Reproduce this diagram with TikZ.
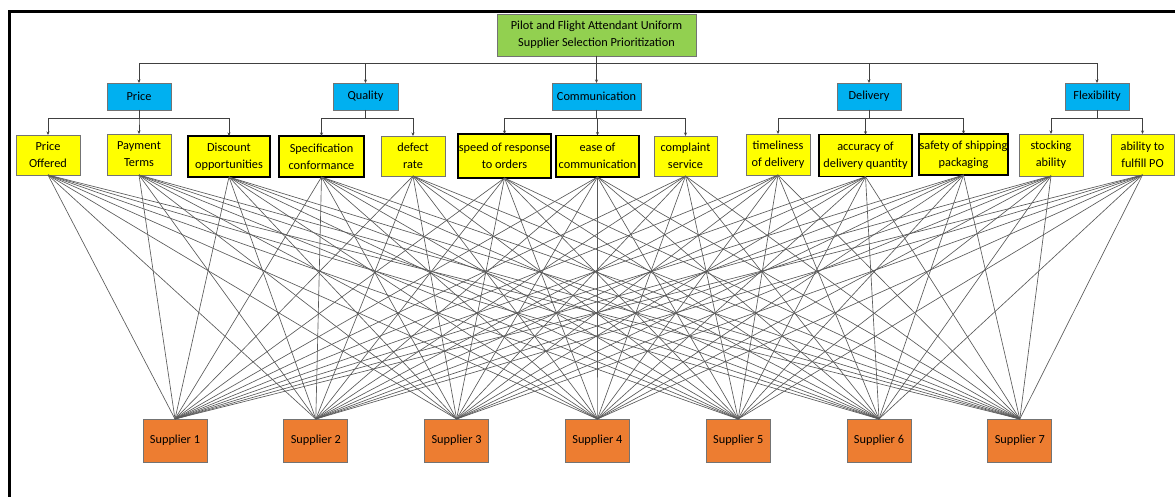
\documentclass[tikz,border=0pt]{standalone}
\usepackage{fontspec}
\setmainfont{Carlito}
\usetikzlibrary{arrows.meta}
\definecolor{cgreen}{HTML}{92D050}
\definecolor{cblue}{HTML}{00B0F0}
\definecolor{cyel}{HTML}{FFFF00}
\definecolor{corange}{HTML}{ED7D31}
\tikzset{
  bx/.style={draw=black!55, line width=0.8pt, inner sep=0pt, outer sep=0pt, align=center,
    font=\fontsize{12.3}{17}\selectfont},
  tk/.style={draw=black, line width=1.1pt},
  topbox/.style={bx, fill=cgreen},
  catbox/.style={bx, fill=cblue, minimum height=27pt},
  subbox/.style={bx, fill=cyel},
  supbox/.style={bx, fill=corange, minimum width=64pt, minimum height=43pt},
  arr/.style={draw=black!75, line width=0.8pt, -{Stealth[length=3.5pt,width=3pt]}},
  link/.style={draw=black!65, line width=0.65pt},
}
\begin{document}
\begin{tikzpicture}[x=1pt,y=-1pt]
\useasboundingbox (0,0) rectangle (1175,497);
\begin{scope}
\clip (0,0) rectangle (1175,497);
\draw[line width=3.5pt] (9.5,510) -- (9.5,11.5) -- (1190,11.5);
\end{scope}

% top
\node[topbox, minimum width=199pt, minimum height=42pt] (top) at (596.5,35) {Pilot and Flight Attendant Uniform\\Supplier Selection Prioritization};

% categories
\node[catbox, minimum width=64pt] (price) at (139,96.5) {Price};
\node[catbox, minimum width=65pt] (qual) at (365.5,96.5) {Quality};
\node[catbox, minimum width=89pt] (comm) at (596.5,96.5) {Communication};
\node[catbox, minimum width=64pt] (deliv) at (869,96.5) {Delivery};
\node[catbox, minimum width=64pt] (flex) at (1097,96.5) {Flexibility};

% subcriteria
\node[subbox, minimum width=64pt, minimum height=40pt] (po) at (48,155) {Price\\Offered};
\node[subbox, minimum width=64pt, minimum height=41pt] (pt) at (139,154.5) {Payment\\Terms};
\node[subbox, tk, minimum width=82pt, minimum height=41pt] (disc) at (229,156.5) {Discount\\opportunities};
\node[subbox, tk, minimum width=85pt, minimum height=41pt] (spec) at (321.5,156.5) {Specification\\conformance};
\node[subbox, minimum width=64pt, minimum height=40pt] (def) at (413,156) {defect\\rate};
\node[subbox, tk, minimum width=93pt, minimum height=44pt] (speed) at (504.5,156) {speed of response\\to orders};
\node[subbox, tk, minimum width=83pt, minimum height=41.5pt] (ease) at (597.5,156.25) {ease of\\communication};
\node[subbox, minimum width=63pt, minimum height=40pt] (comp) at (685.5,156) {complaint\\service};
\node[subbox, minimum width=64pt, minimum height=41pt] (time) at (778,154.5) {timeliness\\of delivery};
\node[subbox, tk, minimum width=93pt, minimum height=42pt] (acc) at (865.5,155.75) {accuracy of\\delivery quantity};
\node[subbox, tk, minimum width=89pt, minimum height=41pt] (safe) at (963.5,154.5) {safety of shipping\\packaging};
\node[subbox, minimum width=64pt, minimum height=42pt] (stock) at (1051,155) {stocking\\ability};
\node[subbox, minimum width=63pt, minimum height=41pt] (abil) at (1142.5,154.5) {ability to\\fulfill PO};

% suppliers
\foreach \k in {1,...,7} {
  \node[supbox] (S\k) at ({175+140.8*(\k-1)},440.5) {Supplier \k};
}

% tree connectors
\coordinate (h1) at (0,63);
\coordinate (h2) at (0,118);
\foreach \c in {price,qual,deliv,flex} {
  \draw[arr] (top.south) -- (top.south |- h1) -| (\c.north);
}
\draw[arr] (top.south) -- (comm.north);
\foreach \c/\s in {price/po,price/pt,price/disc,qual/spec,qual/def,comm/speed,comm/ease,comm/comp,deliv/time,deliv/acc,deliv/safe,flex/stock,flex/abil} {
  \draw[arr] (\c.south) -- (\c.south |- h2) -| (\s.north);
}

% links to suppliers
\foreach \s in {po,pt,disc,spec,def,speed,ease,comp,time,acc,safe,stock,abil} {
  \foreach \k in {1,...,7} {
    \draw[link] (\s.south) -- (S\k.north);
  }
}
\end{tikzpicture}
\end{document}
